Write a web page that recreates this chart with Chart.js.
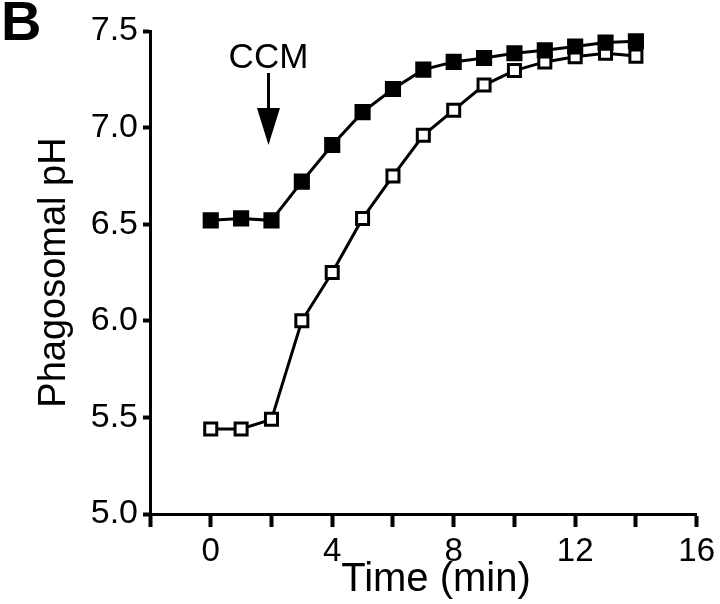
<!DOCTYPE html>
<html>
<head>
<meta charset="utf-8">
<script src="https://cdn.jsdelivr.net/npm/chart.js@4"></script>
<style>
  body { margin: 0; background: #fff; }
  canvas { display: block; }
</style>
</head>
<body>
<canvas id="myChart" width="720" height="604"></canvas>
<script>
// phagosomal pH after CCM addition (time in min)
const timeMin = [0, 1, 2, 3, 4, 5, 6, 7, 8, 9, 10, 11, 12, 13, 14]
const filledPH = [6.52, 6.53, 6.52, 6.72, 6.91, 7.08, 7.20, 7.30, 7.34, 7.36, 7.385, 7.40, 7.42, 7.44, 7.447]
const openPH = [5.44, 5.44, 5.49, 6.00, 6.25, 6.53, 6.75, 6.96, 7.09, 7.22, 7.295, 7.34, 7.367, 7.385, 7.37]

const xTicks = [0, 4, 8, 12, 16]
const ccmTime = 2

const ctx = document.getElementById('myChart')
const font = 'Liberation Sans, Arial, Helvetica, sans-serif'

function toPoints(ys) {
  return timeMin.map((t, i) => ({ x: t, y: ys[i] }))
}

// extra text: panel letter, CCM arrow, x title
const extras = {
  id: 'extras',
  afterDraw(chart) {
    const c = chart.ctx
    const xs = chart.scales.x
    c.save()
    c.fillStyle = '#000'
    c.strokeStyle = '#000'

    c.font = 'bold 56px ' + font
    c.textAlign = 'left'
    c.textBaseline = 'alphabetic'
    c.fillText('B', 1, 40)

    const ax = xs.getPixelForValue(ccmTime) - 3
    c.font = '35px ' + font
    c.textAlign = 'center'
    c.fillText('CCM', ax, 68)
    c.lineWidth = 3
    c.beginPath()
    c.moveTo(ax, 73)
    c.lineTo(ax, 110)
    c.stroke()
    c.beginPath()
    c.moveTo(ax - 11.5, 108)
    c.lineTo(ax + 11.5, 108)
    c.lineTo(ax, 145)
    c.closePath()
    c.fill()

    c.font = '40px ' + font
    c.textBaseline = 'middle'
    c.fillText('Time (min)', 436, 580)
    c.restore()
  }
}

const myChart = new Chart(ctx, {
  type: 'line',
  data: {
    datasets: [
      {
        label: 'filled',
        data: toPoints(filledPH),
        borderColor: '#000',
        borderWidth: 3,
        pointStyle: 'rect',
        pointRadius: 10,
        pointBorderWidth: 2,
        pointBackgroundColor: '#000',
        pointBorderColor: '#000',
        tension: 0,
        clip: false
      },
      {
        label: 'open',
        data: toPoints(openPH),
        borderColor: '#000',
        borderWidth: 3,
        pointStyle: 'rect',
        pointRadius: 8.5,
        pointBorderWidth: 3,
        pointBackgroundColor: '#fff',
        pointBorderColor: '#000',
        tension: 0,
        clip: false
      }
    ]
  },
  options: {
    responsive: false,
    animation: false,
    layout: { padding: { top: 31, right: 17, left: 0, bottom: 0 } },
    plugins: {
      legend: { display: false },
      tooltip: { enabled: false }
    },
    scales: {
      x: {
        type: 'linear',
        min: -2,
        max: 16,
        afterFit: s => { s.height = 90 },
        border: { color: '#000', width: 3 },
        grid: { drawOnChartArea: false, color: '#000', tickColor: '#000', tickWidth: 4, tickLength: 13 },
        ticks: {
          stepSize: 2,
          autoSkip: false,
          maxRotation: 0,
          padding: 5,
          color: '#000',
          font: { family: font, size: 33 },
          callback: v => xTicks.includes(v) ? String(v) : ''
        }
      },
      y: {
        min: 5,
        max: 7.5,
        afterFit: s => { s.width = 150 },
        border: { color: '#000', width: 3 },
        grid: { drawOnChartArea: false, color: '#000', tickColor: '#000', tickWidth: 4, tickLength: 7 },
        ticks: {
          stepSize: 0.5,
          padding: 5,
          color: '#000',
          font: { family: font, size: 34 },
          callback: v => v.toFixed(1)
        },
        title: {
          display: true,
          text: 'Phagosomal pH',
          color: '#000',
          font: { family: font, size: 38 },
          padding: { top: 32, bottom: 0 }
        }
      }
    }
  },
  plugins: [extras]
})
</script>
</body>
</html>
